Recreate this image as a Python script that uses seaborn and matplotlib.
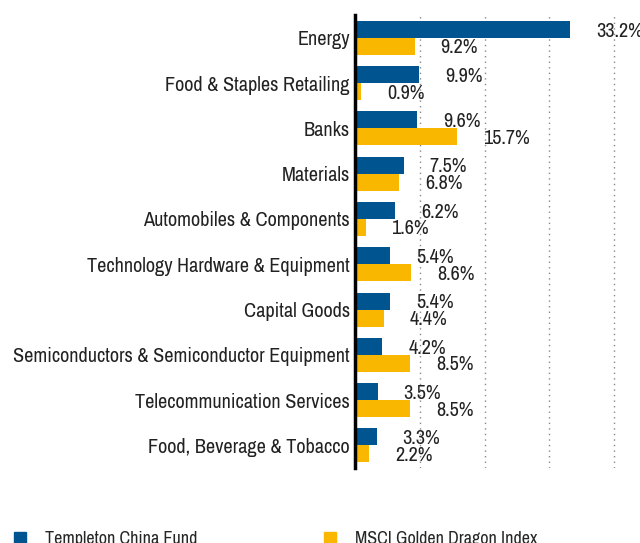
import seaborn as sns
import matplotlib.pyplot as plt
import pandas as pd
from matplotlib import font_manager
from matplotlib.lines import Line2D

categories = ["Energy", "Food & Staples Retailing", "Banks", "Materials",
              "Automobiles & Components", "Technology Hardware & Equipment",
              "Capital Goods", "Semiconductors & Semiconductor Equipment",
              "Telecommunication Services", "Food, Beverage & Tobacco"]
fund = [33.2, 9.9, 9.6, 7.5, 6.2, 5.4, 5.4, 4.2, 3.5, 3.3]
index = [9.2, 0.9, 15.7, 6.8, 1.6, 8.6, 4.4, 8.5, 8.5, 2.2]
series = ["Templeton China Fund", "MSCI Golden Dragon Index"]
colors = ["#005591", "#F9B700"]

df = pd.DataFrame({
    "sector": categories * 2,
    "value": fund + index,
    "series": [series[0]] * len(fund) + [series[1]] * len(index),
})

# pick a narrow font if one is installed
names = sorted({f.name for f in font_manager.fontManager.ttflist})
narrow = [n for n in names if "Narrow" in n or "Condensed" in n]

sns.set_style("white")
if narrow:
    plt.rcParams['font.family'] = [narrow[0], 'DejaVu Sans']
    fs = 14.6
else:
    plt.rcParams['font.family'] = ['DejaVu Sans']
    fs = 11.5

fig = plt.figure(figsize=(6.4, 5.43), dpi=100)
ax = fig.add_axes([0.555, 0.138, 0.445, 0.834])

sns.barplot(data=df, y="sector", x="value", hue="series", palette=colors,
            orient="h", width=0.75, ax=ax, legend=False, saturation=1,
            linewidth=0)

ax.set_xlim(0, 44)
ax.set_xticks([10, 20, 30, 40])
ax.xaxis.grid(True, linestyle=(0, (1, 3)), color="#888888", linewidth=1)
ax.set_axisbelow(True)
ax.tick_params(axis="x", labelbottom=False, length=0)
ax.tick_params(axis="y", length=0, labelsize=fs, pad=4, labelcolor="#222222")
ax.set_xlabel("")
ax.set_ylabel("")
for s in ["top", "right", "bottom"]:
    ax.spines[s].set_visible(False)
ax.spines["left"].set_color("black")
ax.spines["left"].set_linewidth(2.5)

for i in range(len(categories)):
    ax.text(fund[i] + 4.0, i - 0.15, f"{fund[i]}%", va="center", ha="left",
            fontsize=fs, color="#222222")
    ax.text(index[i] + 4.0, i + 0.22, f"{index[i]}%", va="center", ha="left",
            fontsize=fs, color="#222222")

handles = [Line2D([], [], marker="s", linestyle="", markersize=9,
                  markerfacecolor=c, markeredgecolor=c) for c in colors]
fig.legend(handles, series, loc="lower left", bbox_to_anchor=(-0.008, -0.038),
           ncol=2, frameon=False, fontsize=13, handletextpad=0.9,
           columnspacing=6.8, handlelength=1)

fig.savefig("out.png", dpi=100)
